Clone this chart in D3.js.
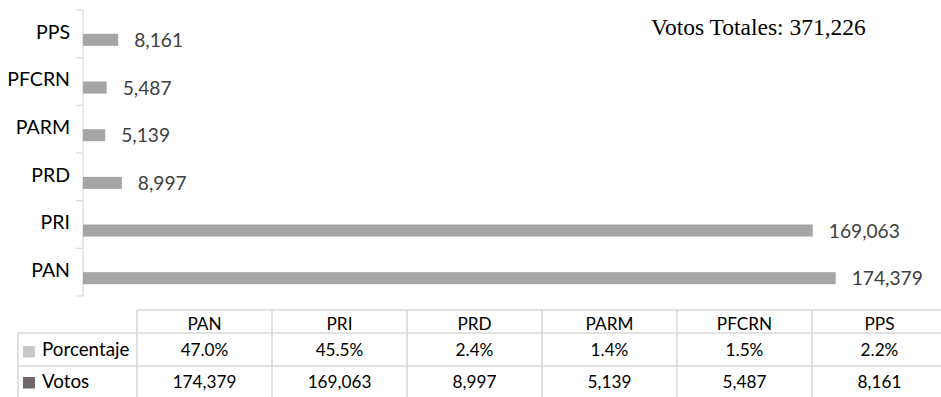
<!DOCTYPE html>
<html>
<head>
<meta charset="utf-8">
<script src="https://cdn.jsdelivr.net/npm/d3@7"></script>
<style>
  html, body { margin: 0; padding: 0; background: #fff; }
  svg { display: block; }
</style>
</head>
<body>
<svg id="chart" width="941" height="397"></svg>
<script>
// ---- data ----
const categories = ["PAN", "PRI", "PRD", "PARM", "PFCRN", "PPS"];
const votos = [174379, 169063, 8997, 5139, 5487, 8161];
const porcentaje = [47.0, 45.5, 2.4, 1.4, 1.5, 2.2];
const seriesNames = ["Porcentaje", "Votos"];
const totalLabel = "Votos Totales: ";
const totalVotos = 371226;

// ---- layout ----
const svg = d3.select("#chart");
const font = "Lato, 'Open Sans', sans-serif";
const axisX = 83;
const fmtInt = d3.format(",");
const fmtPct = d3.format(".1f");

const y = d3.scaleBand()
  .domain(categories.slice().reverse())
  .range([10, 296]);

const inner = d3.scaleBand()
  .domain(seriesNames)
  .range([0, y.bandwidth()])
  .paddingInner(0)
  .paddingOuter(0.98);

const x = d3.scaleLinear()
  .domain([0, d3.max(votos)])
  .range([axisX, 835.7]);

// axis line + ticks
const gridColor = "#D9D9D9";
svg.append("line")
  .attr("x1", axisX).attr("x2", axisX)
  .attr("y1", y.range()[0]).attr("y2", y.range()[1])
  .attr("stroke", gridColor).attr("stroke-width", 1.2);

const tickYs = categories.map(c => y(c)).concat([y.range()[1]]);
svg.selectAll("line.tick").data(tickYs).enter().append("line")
  .attr("class", "tick")
  .attr("x1", axisX - 7).attr("x2", axisX)
  .attr("y1", d => d).attr("y2", d => d)
  .attr("stroke", gridColor).attr("stroke-width", 1.2);

// category labels
svg.selectAll("text.cat").data(categories).enter().append("text")
  .attr("class", "cat")
  .attr("x", 70)
  .attr("y", d => y(d) + y.bandwidth() / 2 + 4.8)
  .attr("text-anchor", "end")
  .attr("font-family", font)
  .attr("font-size", 19.5)
  .attr("fill", "#000")
  .text(d => d);

// bars (Porcentaje is negligible on this scale)
const rows = categories.map((c, i) => ({ c, votos: votos[i], pct: porcentaje[i] }));
svg.selectAll("rect.pct").data(rows).enter().append("rect")
  .attr("class", "pct")
  .attr("x", axisX)
  .attr("y", d => y(d.c) + inner("Porcentaje"))
  .attr("width", d => x(d.pct) - x(0))
  .attr("height", inner.bandwidth())
  .attr("fill", "#C9C9C9");

svg.selectAll("rect.vot").data(rows).enter().append("rect")
  .attr("class", "vot")
  .attr("x", axisX)
  .attr("y", d => y(d.c) + inner("Votos"))
  .attr("width", d => x(d.votos) - x(0))
  .attr("height", inner.bandwidth())
  .attr("fill", "#A5A5A5");

// value labels
svg.selectAll("text.val").data(rows).enter().append("text")
  .attr("class", "val")
  .attr("x", d => x(d.votos) + 16)
  .attr("y", d => y(d.c) + inner("Votos") + inner.bandwidth() / 2 + 7)
  .attr("font-family", font)
  .attr("font-size", 19.2)
  .attr("fill", "#404040")
  .text(d => fmtInt(d.votos));

// total annotation
svg.append("text")
  .attr("x", 651)
  .attr("y", 35)
  .attr("font-family", "'Liberation Serif', 'Times New Roman', serif")
  .attr("font-size", 23.5)
  .attr("fill", "#000")
  .text(totalLabel + fmtInt(totalVotos));

// ---- data table ----
const colX = d3.scaleBand()
  .domain(categories)
  .range([137, 137 + 135 * categories.length]);
const tableLeft = 18;
const rowTops = [310, 333, 366, 399];
const tFont = 17.2;

const tbl = svg.append("g");
// horizontal lines
tbl.append("line").attr("x1", colX.range()[0]).attr("x2", colX.range()[1])
  .attr("y1", rowTops[0]).attr("y2", rowTops[0]);
[1, 2, 3].forEach(i => {
  tbl.append("line").attr("x1", tableLeft).attr("x2", colX.range()[1])
    .attr("y1", rowTops[i]).attr("y2", rowTops[i]);
});
// vertical lines
tbl.append("line").attr("x1", tableLeft).attr("x2", tableLeft)
  .attr("y1", rowTops[1]).attr("y2", rowTops[3]);
categories.concat(["__end"]).forEach((c, i) => {
  const xx = colX.range()[0] + i * colX.step();
  tbl.append("line").attr("x1", xx).attr("x2", xx)
    .attr("y1", rowTops[0]).attr("y2", rowTops[3]);
});
tbl.selectAll("line").attr("stroke", gridColor).attr("stroke-width", 1.6);

// header
tbl.selectAll("text.hdr").data(categories).enter().append("text")
  .attr("x", d => colX(d) + colX.bandwidth() / 2)
  .attr("y", 330)
  .text(d => d);
// porcentaje row
tbl.selectAll("text.pctv").data(rows).enter().append("text")
  .attr("x", d => colX(d.c) + colX.bandwidth() / 2)
  .attr("y", 356)
  .text(d => fmtPct(d.pct) + "%");
// votos row
tbl.selectAll("text.votv").data(rows).enter().append("text")
  .attr("x", d => colX(d.c) + colX.bandwidth() / 2)
  .attr("y", 388)
  .text(d => fmtInt(d.votos));
tbl.selectAll("text")
  .attr("text-anchor", "middle")
  .attr("font-family", font)
  .attr("font-size", tFont)
  .attr("fill", "#000");

// legend keys in row headers
const legendColors = { "Porcentaje": "#C9C9C9", "Votos": "#6E6868" };
const legendY = { "Porcentaje": 346, "Votos": 377 };
seriesNames.forEach(s => {
  tbl.append("rect")
    .attr("x", 23).attr("y", legendY[s])
    .attr("width", 12).attr("height", 11.5)
    .attr("fill", legendColors[s]);
  tbl.append("text")
    .attr("x", 42)
    .attr("y", s === "Porcentaje" ? 356 : 388)
    .attr("font-family", font)
    .attr("font-size", 18.8)
    .attr("fill", "#000")
    .text(s);
});
</script>
</body>
</html>
